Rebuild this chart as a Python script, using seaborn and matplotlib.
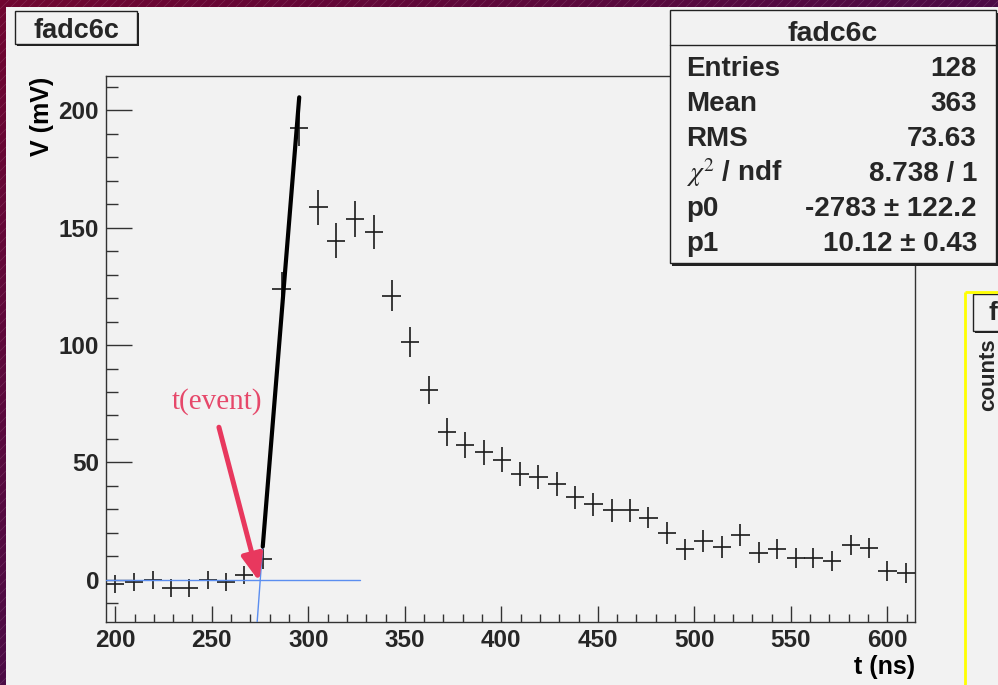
import numpy as np
import pandas as pd
import matplotlib
matplotlib.use("Agg")
import matplotlib.pyplot as plt
import seaborn as sns
from matplotlib.patches import Rectangle
from matplotlib.ticker import MultipleLocator

# ---------------- data ----------------
t_ns = [200.0, 209.8, 219.4, 228.9, 238.3, 248.0, 257.4, 266.8, 276.4, 286.2,
        295.3, 305.2, 314.5, 324.2, 333.9, 343.2, 352.7, 362.4, 371.7, 381.3,
        390.9, 400.5, 409.8, 419.2, 428.7, 438.2, 447.7, 457.4, 466.8, 476.2,
        485.7, 495.3, 504.7, 514.4, 523.8, 533.3, 542.8, 552.7, 561.7, 571.3,
        581.0, 590.4, 600.0, 609.7]
volt_mV = [-1.7, -1.0, -0.1, -3.5, -3.5, 0.0, -1.0, 2.1, 8.8, 124.0,
           192.5, 158.6, 144.4, 153.7, 148.1, 121.0, 101.1, 80.9, 63.0, 57.4,
           54.3, 51.2, 45.1, 43.8, 40.9, 35.2, 32.3, 29.6, 29.6, 26.5,
           19.9, 13.1, 16.7, 14.2, 19.1, 11.6, 13.2, 9.2, 9.2, 8.1,
           14.8, 13.5, 3.7, 3.1]
volt_err = [3.9, 3.9, 3.9, 3.9, 3.9, 3.9, 3.9, 4.0, 4.2, 7.0,
            7.8, 7.4, 7.4, 7.6, 7.4, 6.7, 6.4, 6.0, 5.9, 5.5,
            5.3, 5.4, 5.3, 5.2, 5.2, 5.0, 4.9, 4.9, 4.9, 4.6,
            4.7, 4.4, 4.6, 4.7, 4.7, 4.4, 4.4, 4.3, 4.3, 4.3,
            4.3, 4.3, 4.3, 4.3]
bin_width_ns = 9.53

fit_p0 = -2783.0
fit_p1 = 10.12
fit_t = [276.4, 295.3]

baseline_t = [195.2, 326.8]
baseline_v = [0.0, 0.0]
tevent_line_t = [276.4, 273.5]
tevent_line_v = [14.5, -18.0]
arrow_from = (253.7, 65.0)
arrow_to = (274.6, -0.7)

x_ticks = [200, 250, 300, 350, 400, 450, 500, 550, 600]
y_ticks = [0, 50, 100, 150, 200]

stats_title = "fadc6c"
stats_labels = ["Entries", "Mean", "RMS", r"$\chi^{2}$ / ndf", "p0", "p1"]
stats_values = ["128", "363", "73.63", "8.738 / 1", "-2783 \u00b1 122.2", "10.12 \u00b1 0.43"]

# ---------------- style ----------------
sns.set_style("ticks")
plt.rcParams['font.family'] = ['Liberation Sans', 'DejaVu Sans']
plt.rcParams['mathtext.fontset'] = 'stix'

W, H = 998, 685
fig = plt.figure(figsize=(W / 100, H / 100), dpi=100)
CANVAS = '#f2f2f2'
INK = '#1a1a1a'

# ---------------- background (pixel coordinates) ----------------
bg = fig.add_axes([0, 0, 1, 1], zorder=-20)
bg.set_xlim(0, W)
bg.set_ylim(H, 0)
bg.axis('off')
xx, yy = np.meshgrid(np.linspace(0, 1, 200), np.linspace(0, 1, 140))
tgrad = (xx + yy) / 2
c0 = np.array([112, 6, 48]) / 255
c1 = np.array([40, 18, 92]) / 255
img = c0[None, None, :] * (1 - tgrad[..., None]) + c1[None, None, :] * tgrad[..., None]
bg.imshow(img, extent=[0, W, H, 0], aspect='auto', zorder=0)
for c in range(-H, W + 20, 9):
    bg.plot([c, c + H], [H, 0], color='white', alpha=0.12, lw=0.6, zorder=1)
bg.add_patch(Rectangle((6, 7), W - 6, H - 7, facecolor=CANVAS, edgecolor='none', zorder=2))

# ---------------- main axes ----------------
L, R, T, B = 106, 915, 76, 622
ax = fig.add_axes([L / W, 1 - B / H, (R - L) / W, (B - T) / H], zorder=1)
ax.set_facecolor(CANVAS)
ax.set_xlim(195.2, 614.3)
ax.set_ylim(-17.9, 214.5)

ax.errorbar(t_ns, volt_mV, xerr=bin_width_ns / 2, yerr=volt_err, fmt='none',
            ecolor=INK, elinewidth=1.2, capsize=0, zorder=3)

sns.lineplot(x=baseline_t, y=baseline_v, ax=ax, color='#5b8ef0', lw=1.0, zorder=4)
sns.lineplot(x=tevent_line_t, y=tevent_line_v, ax=ax, color='#5b8ef0', lw=1.0,
             zorder=4, sort=False)
fit_v = [fit_p0 + fit_p1 * t for t in fit_t]
sns.lineplot(x=fit_t, y=fit_v, ax=ax, color='black', lw=3.0, zorder=5)

ax.annotate('', xy=arrow_to, xytext=arrow_from,
            arrowprops=dict(arrowstyle='-|>,head_length=0.8,head_width=0.32',
                            lw=3.6, color='#e8385e', shrinkA=0, shrinkB=0,
                            mutation_scale=20), zorder=6)
ax.text(252.5, 75.9, 't(event)', family=['Liberation Serif', 'DejaVu Serif'],
        fontsize=21, color='#e6486a', ha='center', va='center', zorder=6)

ax.set_xticks(x_ticks)
ax.set_yticks(y_ticks)
ax.xaxis.set_minor_locator(MultipleLocator(10))
ax.yaxis.set_minor_locator(MultipleLocator(10))
ax.tick_params(axis='x', which='major', direction='in', length=11.3, width=1.0,
               color='#333333', pad=5, labelsize=17.5)
ax.tick_params(axis='x', which='minor', direction='in', length=6.0, width=1.0,
               color='#333333')
ax.tick_params(axis='y', which='major', direction='in', length=18.5, width=1.0,
               color='#333333', pad=5, labelsize=17.5)
ax.tick_params(axis='y', which='minor', direction='in', length=8.9, width=1.0,
               color='#333333')
for lab in ax.get_xticklabels() + ax.get_yticklabels():
    lab.set_fontweight('bold')
for s in ax.spines.values():
    s.set_visible(True)
    s.set_color('#333333')
    s.set_linewidth(1.0)
ax.set_xlabel('')
ax.set_ylabel('')

# ---------------- overlay (pixel coordinates) ----------------
ov = fig.add_axes([0, 0, 1, 1], zorder=10)
ov.set_xlim(0, W)
ov.set_ylim(H, 0)
ov.axis('off')
ov.patch.set_visible(False)

# axis titles
ov.text(R, 667, 't (ns)', ha='right', va='center', fontsize=18, fontweight='bold', color='black')
ov.text(42, 77, 'V (mV)', ha='center', va='top', rotation=90, fontsize=18,
        fontweight='bold', color='black')

# title box
ov.add_patch(Rectangle((17, 13), 122, 33, facecolor='#222222', edgecolor='none'))
ov.add_patch(Rectangle((15, 11), 122, 33, facecolor=CANVAS, edgecolor='#222222', lw=1.0))
ov.text(76, 37.5, 'fadc6c', ha='center', va='baseline', fontsize=19.5, fontweight='bold')

# stats box
sx0, sy0, sx1, sy1 = 670, 10, 996, 263
ov.add_patch(Rectangle((sx0 + 2.5, sy0 + 2.5), sx1 - sx0, sy1 - sy0, facecolor='#222222',
                       edgecolor='none'))
ov.add_patch(Rectangle((sx0, sy0), sx1 - sx0, sy1 - sy0, facecolor=CANVAS,
                       edgecolor='#222222', lw=1.0))
ov.plot([sx0, sx1], [45, 45], color='#222222', lw=1.0)
ov.text((sx0 + sx1) / 2, 40.5, stats_title, ha='center', va='baseline', fontsize=20.5,
        fontweight='bold')
for i, (lab, val) in enumerate(zip(stats_labels, stats_values)):
    yb = 76 + 35 * i
    ov.text(686, yb, lab, ha='left', va='baseline', fontsize=20, fontweight='bold')
    ov.text(977, yb, val, ha='right', va='baseline', fontsize=20, fontweight='bold')

# partial neighbouring pad on the right
ov.plot([965, 965], [292, H], color='#ffff00', lw=2.0, solid_capstyle='butt')
ov.plot([965, W], [292, 292], color='#ffff00', lw=2.0, solid_capstyle='butt')
ov.add_patch(Rectangle((975, 296), 40, 37, facecolor='#222222', edgecolor='none'))
ov.add_patch(Rectangle((973, 294), 40, 37, facecolor=CANVAS, edgecolor='#222222', lw=1.0))
ov.text(989, 320, 'f', ha='left', va='baseline', fontsize=19, fontweight='bold')
ov.text(989, 338, 'counts', ha='center', va='top', rotation=90, fontsize=16,
        fontweight='bold')

fig.savefig('out.png', dpi=100)
